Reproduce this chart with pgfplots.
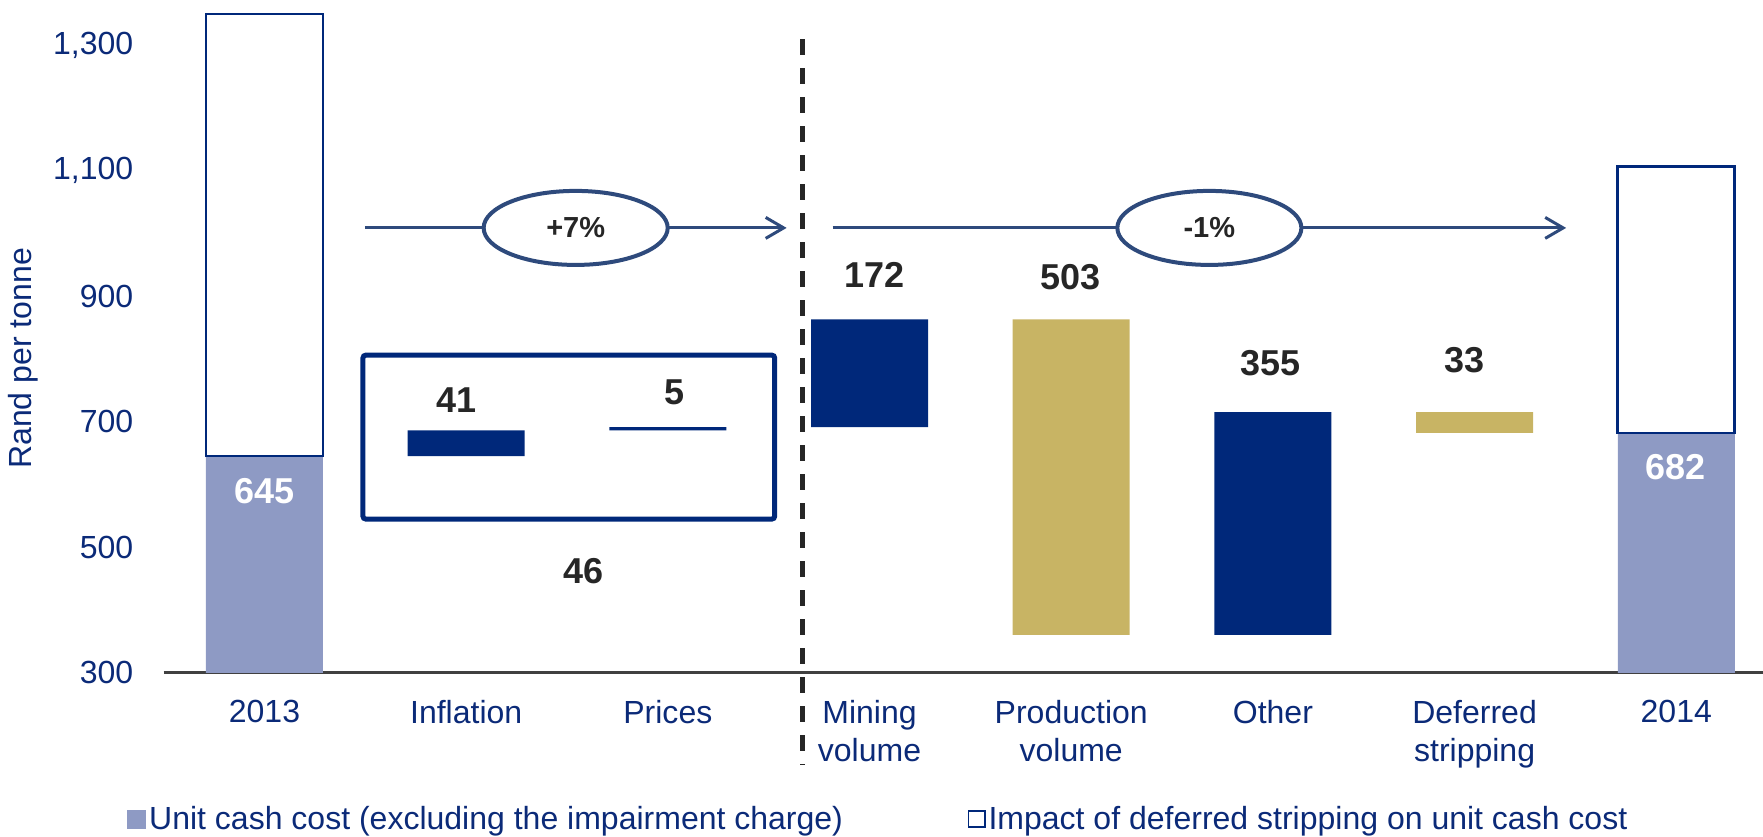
\documentclass[border=0pt]{standalone}
\usepackage{fontspec}
\setmainfont{Liberation Sans}
\usepackage{pgfplots}
\pgfplotsset{compat=1.18}
\usetikzlibrary{arrows.meta,shapes.geometric}
\definecolor{navy}{HTML}{00287A}
\definecolor{lilac}{HTML}{8E9AC4}
\definecolor{gold}{HTML}{C8B464}
\definecolor{slate}{HTML}{2E4A7C}
\definecolor{txt}{HTML}{262626}
\definecolor{ticktxt}{HTML}{0B2A78}
\definecolor{axisgray}{HTML}{404040}
\newcommand{\lbl}{\fontsize{16}{19}\selectfont}
\newcommand{\num}{\fontsize{18}{21}\selectfont\bfseries}
\begin{document}
\begin{tikzpicture}
\pgfplotsset{
  common/.style={
    at={(0pt,0pt)}, anchor=south west,
    scale only axis, width=799.5pt, height=336.15pt,
    xmin=-0.5, xmax=7.43, ymin=300, ymax=1372.2,
    ybar stacked, bar width=0.58,
    legend cell align=left,
  }
}
\begin{axis}[common,
  axis x line*=bottom, axis y line*=left,
  y axis line style={draw=none},
  x axis line style={draw=axisgray, line width=1.3pt},
  major tick length=0pt,
  ytick={300,500,700,900,1100,1300},
  xtick={0,...,7},
  xticklabels={2013,Inflation,Prices,{Mining\\volume},{Production\\volume},Other,{Deferred\\stripping},2014},
  /pgf/number format/1000 sep={,},
  /pgf/number format/assume math mode=true,
  yticklabel style={font=\lbl, text=ticktxt, inner sep=0pt, anchor=east, xshift=-15pt},
  xticklabel style={font=\lbl, text=ticktxt, inner sep=0pt, anchor=north, align=center, yshift=-13.5pt},
  ylabel={Rand per tonne},
  every axis y label/.style={at={(axis description cs:-0.0879,0.467)}, rotate=90, anchor=center, font=\lbl, text=ticktxt},
  legend style={at={(-0.0229,-0.2182)}, anchor=west, draw=none, fill=none, inner sep=0pt, font=\lbl, text=ticktxt, nodes={inner sep=1.5pt}},
]
\addplot[fill=none, draw=none, forget plot] coordinates {(0,0) (1,645) (2,686) (3,691) (4,360) (5,360) (6,682) (7,0)};
\addplot[fill=lilac, draw=none, forget plot] coordinates {(0,645) (1,0) (2,0) (3,0) (4,0) (5,0) (6,0) (7,682)};
\addplot[fill=navy, draw=none, forget plot] coordinates {(0,0) (1,41) (2,5) (3,172) (4,0) (5,355) (6,0) (7,0)};
\addplot[fill=gold, draw=none, forget plot] coordinates {(0,0) (1,0) (2,0) (3,0) (4,503) (5,0) (6,33) (7,0)};
\addlegendimage{legend image code/.code={\fill[lilac] (0pt,-4.5pt) rectangle (9pt,4.5pt);}}
\addlegendentry{Unit cash cost (excluding the impairment charge)}
% arrows (drawn first, ellipses cover them in the second axis)
\draw[slate, line width=1.5pt, -{Straight Barb[length=9pt,width=10.5pt]}] (axis cs:0.498,1008.8) -- (axis cs:2.589,1008.8);
\draw[slate, line width=1.5pt, -{Straight Barb[length=9pt,width=10.5pt]}] (axis cs:2.817,1008.8) -- (axis cs:6.454,1008.8);
\end{axis}
\begin{axis}[common, hide axis, clip=false,
  legend style={at={(0.5024,-0.2182)}, anchor=west, draw=none, fill=none, inner sep=0pt, font=\lbl, text=ticktxt, nodes={inner sep=1.5pt}},
]
\addplot[fill=none, draw=none, forget plot] coordinates {(0,645) (7,682)};
\addplot[fill=white, draw=navy, line width=1.35pt, forget plot] coordinates {(0,705) (7,425)};
\addlegendimage{legend image code/.code={\draw[navy, line width=0.9pt, fill=white] (0.45pt,-4.05pt) rectangle (8.55pt,4.05pt);}}
\addlegendentry{Impact of deferred stripping on unit cash cost}
% box around inflation and prices
\draw[navy, line width=2.5pt, rounded corners=1.5pt] (axis cs:0.488,544.5) rectangle (axis cs:2.53,806);
% dashed divider
\draw[txt, line width=2.3pt, dash pattern=on 7.8pt off 6.7pt] (axis cs:2.668,1309.6) -- (axis cs:2.668,152.2);
\node[ellipse, draw=slate, fill=white, line width=2pt, minimum width=92pt, minimum height=37pt, inner sep=0pt,
      font=\fontsize{14.5}{17}\selectfont\bfseries, text=txt] at (axis cs:1.543,1008.8) {+7\%};
\node[ellipse, draw=slate, fill=white, line width=2pt, minimum width=92pt, minimum height=37pt, inner sep=0pt,
      font=\fontsize{14.5}{17}\selectfont\bfseries, text=txt] at (axis cs:4.685,1008.8) {-1\%};
% value labels
\node[font=\num, text=txt] at (axis cs:0,994.6) {705};
\node[font=\num, text=white] at (axis cs:0,589) {645};
\node[font=\num, text=txt] at (axis cs:0.954,734) {41};
\node[font=\num, text=txt] at (axis cs:2.034,747) {5};
\node[font=\num, text=txt] at (axis cs:1.583,461.7) {46};
\node[font=\num, text=txt] at (axis cs:3.025,933.7) {172};
\node[font=\num, text=txt] at (axis cs:3.995,930.5) {503};
\node[font=\num, text=txt] at (axis cs:4.99,793.3) {355};
\node[font=\num, text=txt] at (axis cs:5.95,798) {33};
\node[font=\num, text=txt] at (axis cs:6.995,893.8) {425};
\node[font=\num, text=white] at (axis cs:6.995,627.4) {682};
\end{axis}
\pgfresetboundingbox
\useasboundingbox (-81.8pt,-81.85pt) rectangle (799.5pt,336.15pt);
\end{tikzpicture}
\end{document}
